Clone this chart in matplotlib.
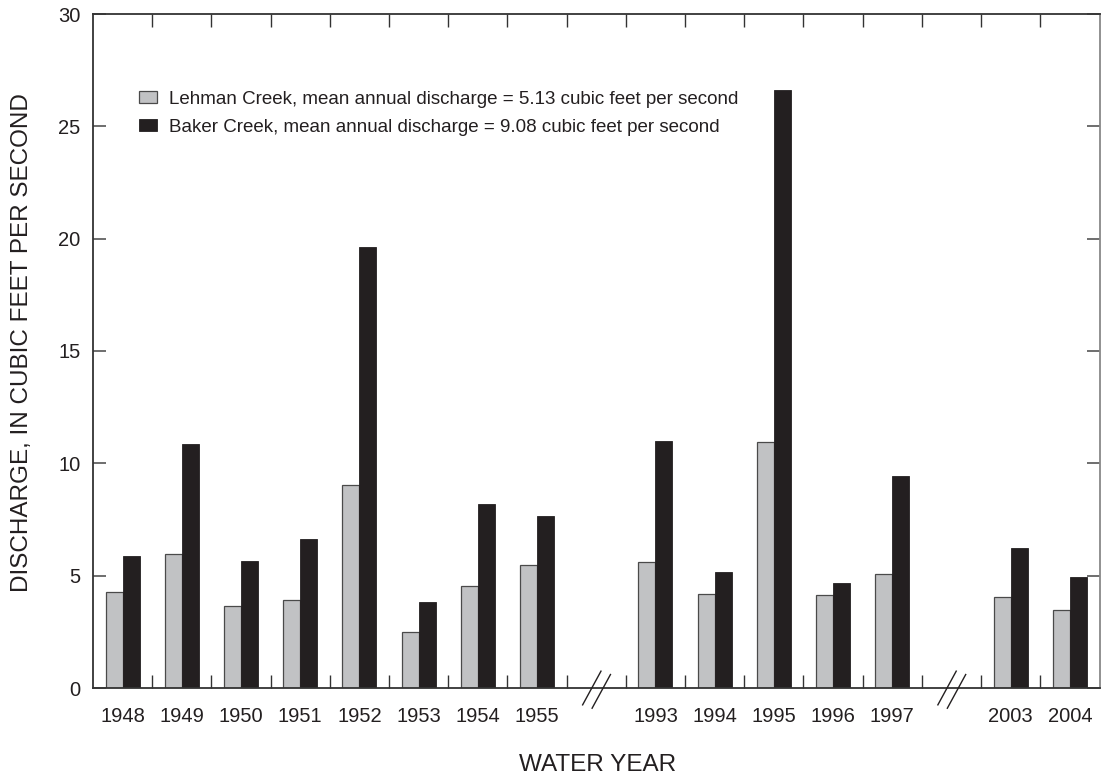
import matplotlib
matplotlib.use("Agg")
import matplotlib.pyplot as plt
from matplotlib.patches import Patch
import numpy as np

plt.rcParams['font.family'] = ['Liberation Sans', 'DejaVu Sans']

# ---- data ----
years = ["1948", "1949", "1950", "1951", "1952", "1953", "1954", "1955",
         "1993", "1994", "1995", "1996", "1997",
         "2003", "2004"]
slots = [0, 1, 2, 3, 4, 5, 6, 7,
         9, 10, 11, 12, 13,
         15, 16]
lehman = [4.29, 5.98, 3.65, 3.90, 9.05, 2.50, 4.55, 5.49,
          5.63, 4.17, 10.97, 4.12, 5.09,
          4.03, 3.45]
baker = [5.87, 10.84, 5.66, 6.61, 19.63, 3.85, 8.19, 7.65,
         10.99, 5.15, 26.63, 4.69, 9.44,
         6.24, 4.93]
break_slots = [8, 14]
n_slots = 17
legend_labels = ["Lehman Creek, mean annual discharge = 5.13 cubic feet per second",
                 "Baker Creek, mean annual discharge = 9.08 cubic feet per second"]
yticks = [0, 5, 10, 15, 20, 25, 30]

GRAY = "#c1c2c4"
BLACK = "#231f20"
EDGE = "#4a4a4a"
TXT = "#231f20"

W, H = 1101, 780
fig = plt.figure(figsize=(W / 100, H / 100), dpi=100)
ax = fig.add_axes([93 / W, 1 - 688 / H, (1099.5 - 93) / W, (688 - 14) / H])

centers = np.array(slots) + 0.5
bw = 0.287
ax.bar(centers - bw / 2, lehman, width=bw, color=GRAY, edgecolor=EDGE, linewidth=0.9, zorder=2)
ax.bar(centers + bw / 2, baker, width=bw, color=BLACK, edgecolor=BLACK, linewidth=0.6, zorder=2)

ax.set_xlim(0, n_slots)
ax.set_ylim(0, 30)

# x labels at slot centers, slot-boundary ticks inward
ax.set_xticks(centers)
ax.set_xticklabels(years, fontsize=14.5, color=TXT)
ax.tick_params(axis='x', which='major', length=0, pad=13.5)
ax.set_xticks(np.arange(1, n_slots), minor=True)
ax.tick_params(axis='x', which='minor', direction='in', length=9.5, width=1.0,
               top=True, bottom=True, color="#333333")

ax.set_yticks(yticks)
ax.set_yticklabels([str(v) for v in yticks], fontsize=14.5, color=TXT)
ax.tick_params(axis='y', which='major', direction='in', length=9.5, width=1.2,
               left=True, right=True, pad=9, color="#555555")

for s in ax.spines.values():
    s.set_linewidth(1.3)
    s.set_color("#333333")
ax.spines['right'].set_color("#888888")

# axis break marks
for b in break_slots:
    c = b + 0.5
    ax.plot([c - 0.23, c + 0.08], [-0.75, 0.75], color="#231f20", lw=1.0, clip_on=False, zorder=5)
    ax.plot([c - 0.07, c + 0.24], [-0.9, 0.6], color="#231f20", lw=1.0, clip_on=False, zorder=5)

# legend
handles = [Patch(facecolor=GRAY, edgecolor=EDGE, linewidth=0.9),
           Patch(facecolor=BLACK, edgecolor=BLACK, linewidth=0.6)]
leg = ax.legend(handles, legend_labels, loc='upper left',
                bbox_to_anchor=((139 - 93) / (1099.5 - 93), 1 - (91 - 14) / (688 - 14)),
                frameon=False, fontsize=13.5, handlelength=0.97, handleheight=0.6,
                handletextpad=0.62, labelspacing=0.58, borderpad=0, borderaxespad=0)
for t in leg.get_texts():
    t.set_color(TXT)

fig.text(598 / W, 1 - 765 / H, "WATER YEAR", ha='center', va='center', fontsize=17.5, color=TXT)
fig.text(22 / W, 1 - 343 / H, "DISCHARGE, IN CUBIC FEET PER SECOND", ha='center', va='center',
         rotation=90, fontsize=17.5, color=TXT)

fig.savefig("out.png", dpi=100)
